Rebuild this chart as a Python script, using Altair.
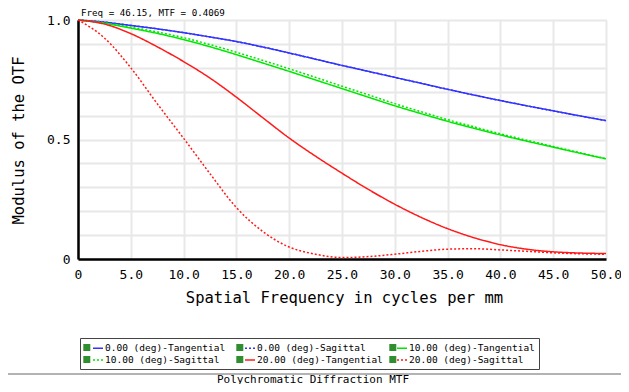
import altair as alt
import pandas as pd

# ---- data ----
freq = [0, 2.5, 5, 7.5, 10, 12.5, 15, 17.5, 20, 22.5, 25, 27.5, 30, 32.5, 35,
        37.5, 40, 42.5, 45, 47.5, 50]

series_names = ["0.00 (deg)-Tangential", "0.00 (deg)-Sagittal",
                "10.00 (deg)-Tangential", "10.00 (deg)-Sagittal",
                "20.00 (deg)-Tangential", "20.00 (deg)-Sagittal"]

t0 = [1.0, 0.991, 0.977, 0.963, 0.947, 0.929, 0.910, 0.887, 0.862, 0.836, 0.810,
      0.785, 0.760, 0.735, 0.710, 0.686, 0.663, 0.641, 0.620, 0.599, 0.579]
s0 = [1.0, 0.991, 0.977, 0.963, 0.947, 0.929, 0.910, 0.887, 0.862, 0.836, 0.810,
      0.785, 0.760, 0.735, 0.710, 0.686, 0.663, 0.641, 0.620, 0.599, 0.579]
t10 = [1.0, 0.986, 0.966, 0.944, 0.918, 0.888, 0.855, 0.820, 0.785, 0.749, 0.713,
       0.677, 0.641, 0.608, 0.576, 0.547, 0.519, 0.493, 0.468, 0.443, 0.419]
s10 = [1.0, 0.988, 0.970, 0.950, 0.926, 0.897, 0.865, 0.831, 0.796, 0.760, 0.723,
       0.687, 0.650, 0.616, 0.583, 0.553, 0.524, 0.497, 0.471, 0.445, 0.420]
t20 = [1.0, 0.983, 0.943, 0.888, 0.826, 0.757, 0.677, 0.591, 0.506, 0.430, 0.359,
       0.291, 0.229, 0.174, 0.127, 0.089, 0.060, 0.041, 0.030, 0.025, 0.023]
s20 = [1.0, 0.925, 0.800, 0.650, 0.505, 0.357, 0.215, 0.115, 0.050, 0.020, 0.006,
       0.010, 0.020, 0.032, 0.041, 0.043, 0.038, 0.032, 0.026, 0.022, 0.020]

colors = ["#3333ff", "#3333ff", "#00e600", "#00e600", "#ff1a1a", "#ff1a1a"]
dashes = [[1, 0], [2, 2], [1, 0], [2, 2], [1, 0], [2, 2]]

x_ticks = [0, 5, 10, 15, 20, 25, 30, 35, 40, 45, 50]
y_ticks = [0, 0.1, 0.2, 0.3, 0.4, 0.5, 0.6, 0.7, 0.8, 0.9, 1.0]

top_note = "Freq = 46.15, MTF = 0.4069"
bottom_title = "Polychromatic Diffraction MTF"

rows = []
for name, vals in zip(series_names, [t0, s0, t10, s10, t20, s20]):
    for f, v in zip(freq, vals):
        rows.append({"freq": f, "mtf": v, "series": name})
df = pd.DataFrame(rows)

MONO = "DejaVu Sans Mono"
W, H = 528, 239

common_legend = dict(orient="none", legendX=2, legendY=318, direction="horizontal",
                     columns=3, gridAlign="all", symbolSize=100, symbolOffset=8,
                     labelFont=MONO, labelFontSize=9.5, labelOffset=1,
                     rowPadding=1, padding=4, title=None)

line_legend = dict(common_legend, symbolType="stroke", symbolStrokeWidth=1.5,
                   labelColor="#000000", strokeColor="#444444", columnPadding=5)

# check-box glyphs drawn as a second, label-less legend on the same grid
box_path = "M-2.84,-0.7H-1.44V0.7H-2.84Z"
box_legend = dict(common_legend, labelExpr="''", columnPadding=130,
                  symbolOpacity=1, symbolFillColor="#2f8f2f",
                  symbolStrokeColor="#1a1a1a", symbolStrokeWidth=1)

xenc = alt.X("freq:Q", scale=alt.Scale(domain=[0, 50], nice=False),
             axis=alt.Axis(values=x_ticks, labelExpr="datum.value == 0 ? '0' : format(datum.value, '.1f')",
                           ticks=False, grid=True, gridColor="#e8e8e8", gridWidth=2,
                           domainColor="#000000", domainWidth=2.5,
                           labelFont=MONO, labelFontSize=13, labelColor="#000000",
                           labelPadding=9, labelFlush=False, labelOverlap=False,
                           title="Spatial Frequency in cycles per mm",
                           titleFont=MONO, titleFontSize=15.5, titleFontWeight="normal",
                           titleColor="#000000", titleX=266, titleY=38,
                           titleAlign="center", titleBaseline="middle"))
yenc = alt.Y("mtf:Q", scale=alt.Scale(domain=[0, 1], nice=False),
             axis=alt.Axis(values=y_ticks,
                           labelExpr="abs(datum.value) < 0.001 ? '0' : (abs(datum.value - 0.5) < 0.001 ? '0.5' : (abs(datum.value - 1) < 0.001 ? '1.0' : ''))",
                           ticks=False, grid=True, gridColor="#e8e8e8", gridWidth=2,
                           domainColor="#000000", domainWidth=2.5,
                           labelFont=MONO, labelFontSize=13, labelColor="#000000",
                           labelPadding=8, labelOverlap=False,
                           title="Modulus of the OTF",
                           titleFont=MONO, titleFontSize=15.5, titleFontWeight="normal",
                           titleColor="#000000", titleAngle=270, titleX=-60, titleY=120,
                           titleAlign="center", titleBaseline="middle"))

lines = alt.Chart(df).mark_line(strokeWidth=1.5, interpolate="monotone").encode(
    x=xenc, y=yenc,
    color=alt.Color("series:N", scale=alt.Scale(domain=series_names, range=colors),
                    legend=alt.Legend(**line_legend)),
    strokeDash=alt.StrokeDash("series:N", scale=alt.Scale(domain=series_names, range=dashes),
                              legend=alt.Legend(**line_legend)),
)

boxes = alt.Chart(df).transform_filter("false").transform_calculate(
    box="'#' + datum.series"
).mark_point(filled=True, color="#2f8f2f", stroke="#1a1a1a", strokeWidth=1).encode(
    x=xenc, y=yenc,
    shape=alt.Shape("box:N", scale=alt.Scale(domain=["#" + n for n in series_names],
                                             range=[box_path] * len(series_names)),
                    legend=alt.Legend(**box_legend)),
)

note = alt.Chart(pd.DataFrame({"t": [top_note]})).mark_text(
    font=MONO, fontSize=9.2, align="left", baseline="middle", color="#000000"
).encode(text="t:N", x=alt.value(3), y=alt.value(-7))

sep = alt.Chart(pd.DataFrame({"a": [0]})).mark_rule(color="#9a9a9a", strokeWidth=1.5).encode(
    x=alt.value(-78), x2=alt.value(545), y=alt.value(354))

btitle = alt.Chart(pd.DataFrame({"t": [bottom_title]})).mark_text(
    font=MONO, fontSize=11, align="center", baseline="middle", color="#000000"
).encode(text="t:N", x=alt.value(235), y=alt.value(359.5))

chart = alt.layer(lines, boxes, note, sep, btitle).properties(
    width=W, height=H,
    autosize=alt.AutoSizeParams(type="none"),
    padding={"left": 70, "top": 12, "right": 15, "bottom": 125},
).configure_view(strokeWidth=0).configure(background="white")

chart.save("out.html", embed_options={"renderer": "svg", "actions": False})
